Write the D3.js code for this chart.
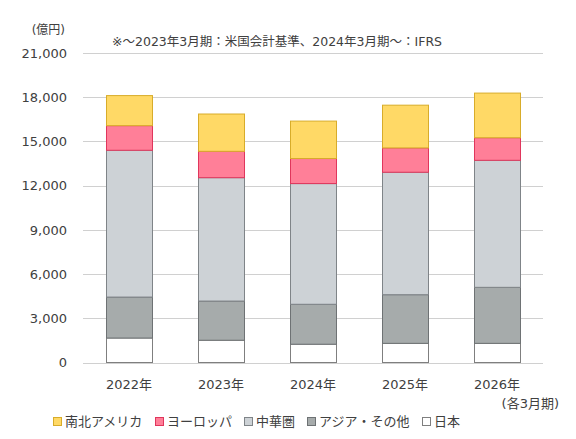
<!DOCTYPE html>
<html>
<head>
<meta charset="utf-8">
<script src="https://cdn.jsdelivr.net/npm/d3@7"></script>
<style>
    body { margin: 0; background: #fff; }
    text { font-family: "DejaVu Sans", "Noto Sans CJK JP", sans-serif; fill: #404040; }
</style>
</head>
<body>
<div id="chart"></div>
<script>
// data (億円)
const years = ["2022年", "2023年", "2024年", "2025年", "2026年"];
const regions = ["日本", "アジア・その他", "中華圏", "ヨーロッパ", "南北アメリカ"];
const japan    = [1660, 1510, 1240, 1300, 1300];
const asia     = [2780, 2660, 2710, 3300, 3800];
const china    = [9960, 8370, 8190, 8310, 8620];
const europe   = [1670, 1790, 1700, 1650, 1530];
const americas = [2040, 2530, 2540, 2900, 3030];
const yTicks = [0, 3000, 6000, 9000, 12000, 15000, 18000, 21000];
const legendOrder = ["南北アメリカ", "ヨーロッパ", "中華圏", "アジア・その他", "日本"];

const colors = {
    "日本": { fill: "#ffffff", stroke: "#7f7f7f" },
    "アジア・その他": { fill: "#a6abab", stroke: "#6e7274" },
    "中華圏": { fill: "#cdd2d6", stroke: "#7f8488" },
    "ヨーロッパ": { fill: "#ff7f98", stroke: "#e0365c" },
    "南北アメリカ": { fill: "#ffd966", stroke: "#d8ac2a" }
};

const width = 576, height = 439;
const margin = { top: 53, right: 33, bottom: 76, left: 83 };

const table = years.map((y, i) => ({
    year: y,
    "日本": japan[i],
    "アジア・その他": asia[i],
    "中華圏": china[i],
    "ヨーロッパ": europe[i],
    "南北アメリカ": americas[i]
}));

const svg = d3.select("#chart")
    .append("svg")
    .attr("width", width)
    .attr("height", height);

const x = d3.scaleBand()
    .domain(years)
    .range([margin.left, width - margin.right])
    .paddingInner(0.5)
    .paddingOuter(0.25);

const y = d3.scaleLinear()
    .domain([0, 21000])
    .range([height - margin.bottom - 0.5, margin.top]);

// gridlines
svg.append("g")
    .selectAll("line")
    .data(yTicks)
    .join("line")
    .attr("x1", margin.left)
    .attr("x2", width - margin.right)
    .attr("y1", d => Math.round(y(d)) + 0.5)
    .attr("y2", d => Math.round(y(d)) + 0.5)
    .attr("stroke", "#d0d0d0")
    .attr("stroke-width", 1);

// y axis labels
const yAxis = svg.append("g")
    .attr("transform", `translate(${margin.left - 16},0)`)
    .call(d3.axisLeft(y).tickValues(yTicks).tickSize(0).tickPadding(0).tickFormat(d3.format(",")));
yAxis.select(".domain").remove();
yAxis.selectAll("text")
    .style("font-size", "13px")
    .style("fill", "#404040");

svg.append("text")
    .attr("x", 65)
    .attr("y", 34)
    .attr("text-anchor", "end")
    .style("font-size", "12px")
    .text("(億円)");

svg.append("text")
    .attr("x", 112)
    .attr("y", 46)
    .style("font-size", "12.5px")
    .text("※～2023年3月期：米国会計基準、2024年3月期～：IFRS");

// bars
const stack = d3.stack().keys(regions)(table);

svg.append("g")
    .selectAll("g")
    .data(stack)
    .join("g")
    .attr("fill", d => colors[d.key].fill)
    .attr("stroke", d => colors[d.key].stroke)
    .selectAll("rect")
    .data(d => d)
    .join("rect")
    .attr("x", d => Math.round(x(d.data.year)) + 0.5)
    .attr("width", Math.round(x.bandwidth()))
    .attr("y", d => y(d[1]))
    .attr("height", d => y(d[0]) - y(d[1]))
    .attr("stroke-width", 1);

// x axis labels
const xAxis = svg.append("g")
    .attr("transform", `translate(0,${height - margin.bottom + 17})`)
    .call(d3.axisBottom(x).tickSize(0).tickPadding(0));
xAxis.select(".domain").remove();
xAxis.selectAll("text")
    .style("font-size", "13px")
    .style("fill", "#404040")
    .attr("dy", "0.71em");

svg.append("text")
    .attr("x", 559)
    .attr("y", 408)
    .attr("text-anchor", "end")
    .style("font-size", "13px")
    .text("(各3月期)");

// legend
const legendX = [53, 155, 244, 307, 422];
const legend = svg.append("g")
    .selectAll("g")
    .data(legendOrder)
    .join("g")
    .attr("transform", (d, i) => `translate(${legendX[i]},417)`);

legend.append("rect")
    .attr("x", 0.5)
    .attr("y", 0.5)
    .attr("width", 8)
    .attr("height", 8)
    .attr("fill", d => colors[d].fill)
    .attr("stroke", d => colors[d].stroke);

legend.append("text")
    .attr("x", 12)
    .attr("y", 4.5)
    .attr("dy", "0.35em")
    .style("font-size", "13px")
    .text(d => d);
</script>
</body>
</html>
